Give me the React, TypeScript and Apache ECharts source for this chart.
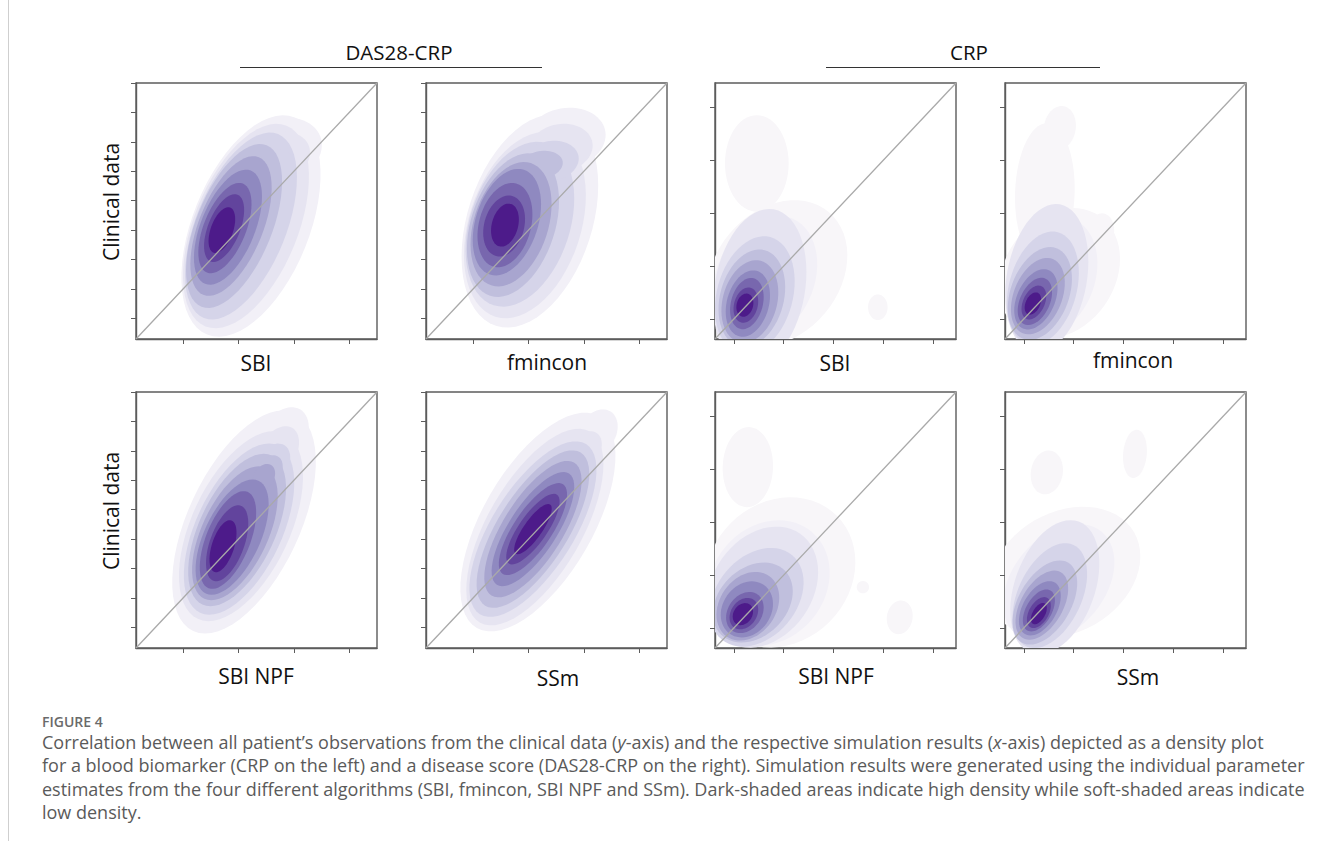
import { useEffect, useRef } from 'react';
import * as echarts from 'echarts';

// Purples contour levels (0 = faintest density, 9 = highest density)
const LEVEL_COLORS = ['#f8f6f9', '#f2f0f7', '#e6e4f1', '#d5d4e9', '#c0bfdd', '#a8a5cf', '#8f89c0', '#7867ae', '#62449d', '#4d1b8a'];

const columnHeaders = ['DAS28-CRP', 'CRP'];
const yName = 'Clinical data';
const xNamesRow1 = ['SBI', 'fmincon', 'SBI', 'fmincon'];
const xNamesRow2 = ['SBI NPF', 'SSm', 'SBI NPF', 'SSm'];

const dasRange = [0.3, 9];
const dasYTicks = [1, 2, 3, 4, 5, 6, 7, 8, 9];
const dasXTicks = [2, 4, 6, 8];
const crpRange = [-0.38, 4.46];
const crpTicks = [0, 1, 2, 3, 4];

// density contour blobs: [level, x, y, semiMajor, semiMinor, angleDeg]
const dasSbi = [
  [1, 4.45, 4.14, 4.1, 2.04, 68], [1, 5.53, 6.69, 1.47, 1.12, 20],
  [2, 4.27, 4.14, 3.79, 1.82, 68], [2, 5.35, 6.45, 1.23, 0.88, 20],
  [3, 4.09, 4.14, 3.47, 1.58, 68], [3, 5.10, 6.11, 0.91, 0.63, 20],
  [4, 3.84, 4.14, 3.05, 1.33, 68],
  [5, 3.73, 4.14, 2.6, 1.12, 68],
  [6, 3.62, 4.10, 2.14, 0.95, 68],
  [7, 3.51, 4.07, 1.68, 0.74, 68],
  [8, 3.48, 4.07, 1.26, 0.56, 68],
  [9, 3.40, 4.00, 0.84, 0.39, 70],
];
const dasFmincon = [
  [1, 4.05, 4.31, 3.86, 2.18, 72], [1, 5.35, 7.13, 1.4, 1.05, 10],
  [2, 3.87, 4.17, 3.37, 1.96, 72], [2, 5.17, 6.79, 1.12, 0.84, 10],
  [3, 3.69, 4.20, 2.98, 1.75, 72], [3, 4.81, 6.35, 0.98, 0.70, 10],
  [4, 3.44, 4.17, 2.6, 1.47, 72], [4, 4.45, 6.21, 0.77, 0.49, 10],
  [5, 3.37, 4.20, 2.25, 1.30, 72],
  [6, 3.22, 4.27, 1.93, 1.09, 72],
  [7, 3.15, 4.17, 1.51, 0.91, 75],
  [8, 3.12, 4.14, 1.09, 0.70, 75],
  [9, 3.15, 4.17, 0.77, 0.46, 75],
];
const crpSbi = [
  [0, 0.46, 2.94, 0.94, 0.62, 90], [0, 0.87, 0.86, 1.56, 1.21, 50], [0, 2.89, 0.22, 0.25, 0.19, 90],
  [1, 0.62, 0.75, 1.3, 0.95, 65],
  [2, 0.52, 0.58, 1.56, 0.88, 80],
  [3, 0.42, 0.45, 1.17, 0.74, 75],
  [4, 0.36, 0.39, 0.97, 0.62, 75],
  [5, 0.32, 0.33, 0.82, 0.53, 75],
  [6, 0.28, 0.29, 0.66, 0.41, 75],
  [7, 0.26, 0.29, 0.51, 0.31, 75],
  [8, 0.24, 0.26, 0.35, 0.23, 75],
  [9, 0.22, 0.26, 0.23, 0.16, 75],
];
const crpFmincon = [
  [0, 0.42, 2.38, 1.36, 0.58, 88], [0, 0.72, 3.61, 0.43, 0.31, 80], [0, 0.72, 0.86, 1.36, 1.07, 55], [0, 1.53, 1.62, 0.39, 0.27, 80],
  [1, 0.55, 0.8, 1.2, 0.85, 70],
  [2, 0.46, 0.77, 1.46, 0.78, 80],
  [3, 0.38, 0.58, 1.13, 0.66, 75],
  [4, 0.32, 0.48, 0.94, 0.57, 70],
  [5, 0.28, 0.43, 0.78, 0.47, 68],
  [6, 0.24, 0.37, 0.62, 0.37, 66],
  [7, 0.22, 0.33, 0.49, 0.29, 65],
  [8, 0.20, 0.31, 0.35, 0.21, 65],
  [9, 0.18, 0.29, 0.23, 0.14, 65],
];
const dasSbiNpf = [
  [1, 4.20, 4.58, 4.21, 1.96, 65], [1, 5.64, 7.47, 1.12, 0.77, 60],
  [2, 4.09, 4.44, 3.58, 1.72, 65], [2, 5.43, 6.96, 0.98, 0.63, 60],
  [3, 4.02, 4.34, 3.23, 1.51, 65], [3, 5.25, 6.55, 0.77, 0.53, 60],
  [4, 3.95, 4.31, 2.88, 1.33, 65], [4, 5.10, 6.28, 0.63, 0.42, 60],
  [5, 3.87, 4.20, 2.53, 1.16, 65], [5, 4.92, 6.11, 0.49, 0.35, 60],
  [6, 3.77, 4.07, 2.18, 0.98, 65],
  [7, 3.62, 3.97, 1.82, 0.77, 68],
  [8, 3.59, 3.86, 1.4, 0.6, 70],
  [9, 3.44, 3.76, 0.95, 0.39, 72],
];
const dasSsm = [
  [1, 4.34, 4.58, 4.28, 1.93, 60], [1, 6.51, 7.64, 0.84, 0.63, 60],
  [2, 4.23, 4.41, 3.86, 1.65, 60], [2, 6.08, 7.03, 0.7, 0.49, 60],
  [3, 4.16, 4.34, 3.51, 1.44, 58],
  [4, 4.16, 4.34, 3.16, 1.23, 58],
  [5, 4.16, 4.34, 2.74, 1.05, 58],
  [6, 4.16, 4.34, 2.32, 0.84, 57],
  [7, 4.16, 4.34, 1.89, 0.67, 56],
  [8, 4.16, 4.34, 1.47, 0.49, 55],
  [9, 4.16, 4.34, 1.05, 0.32, 55],
];
const crpSbiNpf = [
  [0, 0.93, 1.05, 1.56, 1.36, 45], [0, 0.28, 3.04, 0.78, 0.49, 88], [0, 2.59, 0.77, 0.12, 0.12, 0], [0, 3.33, 0.20, 0.33, 0.25, 80],
  [1, 0.7, 0.85, 1.3, 1.1, 50],
  [2, 0.58, 0.77, 1.27, 0.97, 55],
  [3, 0.46, 0.58, 1.07, 0.78, 50],
  [4, 0.38, 0.48, 0.88, 0.66, 45],
  [5, 0.28, 0.41, 0.72, 0.55, 55],
  [6, 0.26, 0.35, 0.58, 0.47, 55],
  [7, 0.22, 0.29, 0.43, 0.33, 55],
  [8, 0.20, 0.27, 0.33, 0.25, 55],
  [9, 0.18, 0.26, 0.23, 0.18, 55],
];
const crpSsm = [
  [0, 0.82, 1.05, 1.56, 1.17, 30], [0, 0.46, 2.94, 0.43, 0.31, 80], [0, 2.23, 3.29, 0.47, 0.23, 85],
  [1, 0.7, 0.85, 1.3, 0.9, 50],
  [2, 0.62, 0.77, 1.36, 0.78, 70],
  [3, 0.52, 0.61, 1.09, 0.62, 65],
  [4, 0.42, 0.48, 0.9, 0.51, 60],
  [5, 0.36, 0.43, 0.74, 0.41, 60],
  [6, 0.32, 0.37, 0.58, 0.33, 60],
  [7, 0.30, 0.33, 0.45, 0.25, 60],
  [8, 0.30, 0.29, 0.33, 0.19, 60],
  [9, 0.30, 0.27, 0.23, 0.12, 60],
];

const captionTitle = 'FIGURE 4';
const captionLines = [
  '{n|Correlation between all patient’s observations from the clinical data (}{i|y}{n|-axis) and the respective simulation results (}{i|x}{n|-axis) depicted as a density plot}',
  '{n|for a blood biomarker (CRP on the left) and a disease score (DAS28-CRP on the right). Simulation results were generated using the individual parameter}',
  '{n|estimates from the four different algorithms (SBI, fmincon, SBI NPF and SSm). Dark-shaded areas indicate high density while soft-shaded areas indicate}',
  '{n|low density.}',
];

const panels = [
  { blobs: dasSbi, kind: 'das' }, { blobs: dasFmincon, kind: 'das' }, { blobs: crpSbi, kind: 'crp' }, { blobs: crpFmincon, kind: 'crp' },
  { blobs: dasSbiNpf, kind: 'das' }, { blobs: dasSsm, kind: 'das' }, { blobs: crpSbiNpf, kind: 'crp' }, { blobs: crpSsm, kind: 'crp' },
];

const COL_LEFT = [136, 426, 715, 1005];
const ROW_TOP = [83, 392];
const PW = 241;
const PH = 256;
const FONT = '"Open Sans", "Noto Sans", sans-serif';

function renderBlob(params: any, api: any) {
  const level = api.value(0);
  const c = api.coord([api.value(1), api.value(2)]);
  const sz = api.size([1, 1]);
  const sc = (sz[0] + sz[1]) / 2;
  const a = api.value(3) * sc;
  const b = api.value(4) * sc;
  const t = (api.value(5) * Math.PI) / 180;
  const pts: number[][] = [];
  const N = 60;
  for (let k = 0; k < N; k++) {
    const th = (k / N) * Math.PI * 2;
    const ex = a * Math.cos(th);
    const ey = b * Math.sin(th);
    pts.push([c[0] + ex * Math.cos(t) - ey * Math.sin(t), c[1] - (ex * Math.sin(t) + ey * Math.cos(t))]);
  }
  return {
    type: 'polygon',
    shape: { points: pts },
    style: { fill: LEVEL_COLORS[level], stroke: null },
    z2: level,
  };
}

export default function App() {
  const ref = useRef<HTMLDivElement>(null);
  useEffect(() => {
    if (!ref.current) return;
    const chart = echarts.init(ref.current, null, { renderer: 'svg' });
    const grid: any[] = [];
    const xAxis: any[] = [];
    const yAxis: any[] = [];
    const series: any[] = [];
    panels.forEach((p, i) => {
      const row = Math.floor(i / 4);
      const col = i % 4;
      const range = p.kind === 'das' ? dasRange : crpRange;
      const xt = p.kind === 'das' ? dasXTicks : crpTicks;
      const yt = p.kind === 'das' ? dasYTicks : crpTicks;
      grid.push({
        left: COL_LEFT[col], top: ROW_TOP[row], width: PW, height: PH,
        show: true, borderColor: '#5c5c5c', borderWidth: 1.4, backgroundColor: 'transparent',
      });
      const axisCommon = {
        gridIndex: i, type: 'value', min: range[0], max: range[1],
        axisLine: { show: true, onZero: false, lineStyle: { color: '#5c5c5c', width: 1.4 } },
        axisLabel: { show: false },
        splitLine: { show: false },
      };
      xAxis.push({ ...axisCommon, axisTick: { show: true, inside: false, length: 5, customValues: xt, lineStyle: { color: '#5c5c5c', width: 1 } } });
      yAxis.push({ ...axisCommon, axisTick: { show: true, inside: false, length: 5, customValues: yt, lineStyle: { color: '#5c5c5c', width: 1 } } });
      const data = [...p.blobs].sort((a, b) => a[0] - b[0]);
      series.push({
        type: 'custom', xAxisIndex: i, yAxisIndex: i, data, renderItem: renderBlob,
        clip: true, silent: true, z: 2, encode: { x: 1, y: 2 },
      });
      series.push({
        type: 'line', xAxisIndex: i, yAxisIndex: i,
        data: [[range[0], range[0]], [range[1], range[1]]],
        symbol: 'none', silent: true, z: 5,
        lineStyle: { color: '#a9a9a9', width: 1.3 },
      });
    });

    const graphic: any[] = [];
    const txt = (x: number, y: number, text: string, size: number, extra: any = {}) => ({
      type: 'text', x, y, ...extra,
      style: { text, fontSize: size, fontFamily: FONT, fill: '#111', textAlign: 'center', textVerticalAlign: 'middle' },
    });
    graphic.push({ type: 'line', shape: { x1: 8.5, y1: 0, x2: 8.5, y2: 841 }, style: { stroke: '#cfcfcf', lineWidth: 1 } });
    graphic.push(txt(399, 52, columnHeaders[0], 20.5));
    graphic.push(txt(969, 52, columnHeaders[1], 20.5));
    graphic.push({ type: 'line', shape: { x1: 240, y1: 67.5, x2: 542, y2: 67.5 }, style: { stroke: '#333', lineWidth: 1 } });
    graphic.push({ type: 'line', shape: { x1: 826, y1: 67.5, x2: 1100, y2: 67.5 }, style: { stroke: '#333', lineWidth: 1 } });
    graphic.push(txt(111, 202, yName, 21, { rotation: Math.PI / 2 }));
    graphic.push(txt(111, 511, yName, 21, { rotation: Math.PI / 2 }));
    const row1X = [256, 547, 835, 1133];
    const row1Y = [363, 362, 363, 360];
    const row2X = [256, 558, 836, 1138];
    const row2Y = [676, 678, 676, 677];
    xNamesRow1.forEach((n, k) => graphic.push(txt(row1X[k], row1Y[k], n, 21)));
    xNamesRow2.forEach((n, k) => graphic.push(txt(row2X[k], row2Y[k], n, 21)));
    graphic.push({
      type: 'text', x: 42, y: 721,
      style: { text: captionTitle, fontSize: 14, fontWeight: 600, fontFamily: FONT, fill: '#6a6a6a', textAlign: 'left', textVerticalAlign: 'middle' },
    });
    captionLines.forEach((line, k) => {
      graphic.push({
        type: 'text', x: 42, y: 742 + k * 23.4,
        style: {
          text: line, textAlign: 'left', textVerticalAlign: 'middle',
          rich: {
            n: { fontSize: 18, fontFamily: FONT, fill: '#5a5a5a' },
            i: { fontSize: 18, fontFamily: FONT, fontStyle: 'italic', fill: '#5a5a5a' },
          },
        },
      });
    });

    chart.setOption({
      animation: false,
      backgroundColor: '#ffffff',
      grid, xAxis, yAxis, series, graphic,
    });
    return () => chart.dispose();
  }, []);
  return <div ref={ref} style={{ position: 'absolute', left: 0, top: 0, width: '1331px', height: '841px', background: '#fff' }} />;
}
